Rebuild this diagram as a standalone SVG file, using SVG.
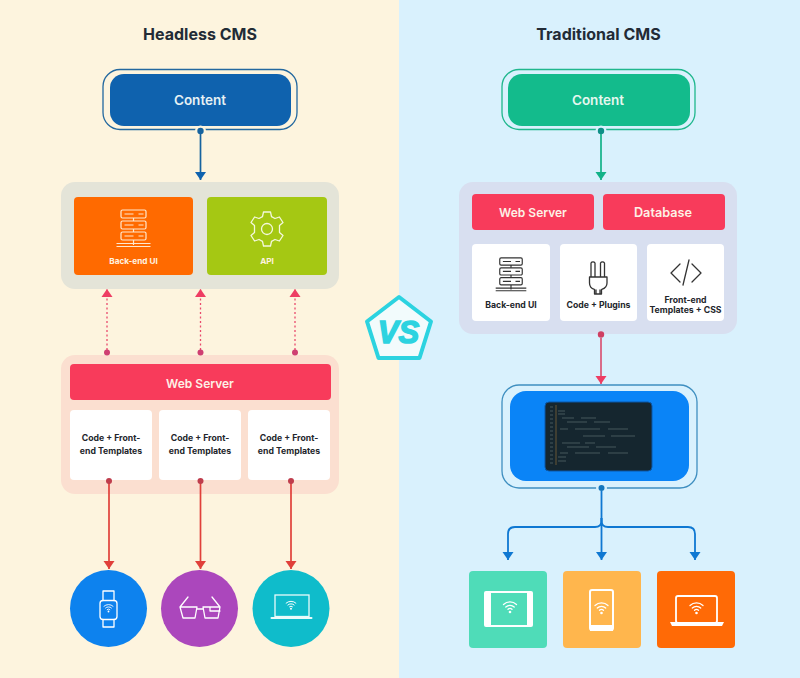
<svg xmlns="http://www.w3.org/2000/svg" width="800" height="678" viewBox="0 0 800 678">
<style>
text{font-family:"Inter","Liberation Sans",sans-serif;text-anchor:middle;font-weight:600}
.title{font-size:16px;fill:#222b36;font-weight:700}
.head{font-size:12px;fill:#fdf0e6}
.small{font-size:8.200px;fill:#fff3e0;font-weight:700}
.dark{font-size:8.700px;fill:#23262b;font-weight:700}
.ic{fill:none;stroke:#fff;stroke-width:1.3;stroke-linejoin:round;stroke-linecap:round}
.ik{fill:none;stroke:#333;stroke-width:1.3;stroke-linejoin:round;stroke-linecap:round}
.code{stroke:#7d8f8f;stroke-width:.8;opacity:.6}
</style>
<defs>
<marker id="ab" markerUnits="userSpaceOnUse" markerWidth="9" markerHeight="12" refX="8" refY="6" orient="auto"><path d="M0 0.500L8 6L0 11.500z" fill="#0f62ae"/></marker>
<marker id="ag" markerUnits="userSpaceOnUse" markerWidth="9" markerHeight="12" refX="8" refY="6" orient="auto"><path d="M0 0.500L8 6L0 11.500z" fill="#12b288"/></marker>
<marker id="ap" markerUnits="userSpaceOnUse" markerWidth="9" markerHeight="12" refX="8" refY="6" orient="auto"><path d="M0 0.500L8 6L0 11.500z" fill="#ee3d63"/></marker>
<marker id="ar" markerUnits="userSpaceOnUse" markerWidth="9" markerHeight="12" refX="8" refY="6" orient="auto"><path d="M0 0.500L8 6L0 11.500z" fill="#e0403a"/></marker>
<marker id="au" markerUnits="userSpaceOnUse" markerWidth="9" markerHeight="12" refX="8" refY="6" orient="auto"><path d="M0 0.500L8 6L0 11.500z" fill="#0f78d2"/></marker>
<g id="wifi"><path d="M-6.500-2.500a9.500 9.500 0 0 1 13 0M-4.200 0a6 6 0 0 1 8.400 0M-2 2.300a3 3 0 0 1 4 0" fill="none" stroke-width="1.300" stroke-linecap="round"/><circle cy="5" r="1.300" stroke="none"/></g>
<g id="srv">
<rect x="-12.500" y="-19" width="25" height="8" rx="1.500"/><rect x="-12.500" y="-8" width="25" height="8" rx="1.500"/><rect x="-12.500" y="3" width="25" height="8" rx="1.500"/>
<path d="M0-11v3M0 0v3M0 11v5M-17 14.500H17M-17 17.500H17M-9-15h9M-9-4h9M-9 7h9M5-15h5M5-4h5M5 7h5"/>
</g>
</defs>
<rect width="400" height="678" fill="#fdf4de"/>
<rect x="399" width="401" height="678" fill="#d9f1fd"/>
<text class="title" x="200" y="40">Headless CMS</text>
<text class="title" x="598.500" y="40">Traditional CMS</text>

<g id="left-content">
<rect x="103" y="69.500" width="194" height="60" rx="17" fill="none" stroke="#23689f" stroke-width="1.300"/>
<rect x="110" y="74" width="181" height="52" rx="14" fill="#0f62ae"/>
<text x="200" y="105" style="font-size:13.500px;fill:#e6f1f4">Content</text>
</g>
<g id="left-cms-panel">
<rect x="61" y="182" width="278" height="107" rx="14" fill="#e4e4d8"/>
<rect x="74" y="197" width="119" height="78" rx="4" fill="#ff6a00"/>
<use href="#srv" transform="translate(133.500 229)" fill="none" stroke="#ffe8cf" stroke-width="1.200"/>
<text class="small" x="133.500" y="264">Back-end UI</text>
<rect x="207" y="197" width="120" height="78" rx="4" fill="#a5c813"/>
<g transform="translate(267 229)" fill="none" stroke="#f4f8dc" stroke-width="1.300" stroke-linejoin="round">
<circle r="5.500"/>
<path d="M-3.500-17H3.500L4.500-12.400 8-10.500 12.400-12 16-6.500 12.500-3.500V3.500L16 6.500 12.400 12 8 10.500 4.500 12.400 3.500 17H-3.500L-4.500 12.400-8 10.500-12.400 12-16 6.500-12.500 3.500V-3.500L-16-6.500-12.400-12-8-10.500-4.500-12.400z"/>
</g>
<text class="small" x="267" y="264">API</text>
</g>
<g id="left-web-server">
<rect x="61" y="355" width="278" height="139" rx="14" fill="#fbdfd0"/>
<rect x="70" y="364" width="261" height="36" rx="4" fill="#f83b5b"/>
<text class="head" x="200" y="388">Web Server</text>
<rect x="70" y="410" width="82" height="70" rx="4" fill="#fff"/>
<rect x="159" y="410" width="82" height="70" rx="4" fill="#fff"/>
<rect x="248" y="410" width="82" height="70" rx="4" fill="#fff"/>
<text class="dark" x="111" y="441">Code + Front-</text><text class="dark" x="111" y="454">end Templates</text>
<text class="dark" x="200" y="441">Code + Front-</text><text class="dark" x="200" y="454">end Templates</text>
<text class="dark" x="289" y="441">Code + Front-</text><text class="dark" x="289" y="454">end Templates</text>
</g>
<g id="device-watch">
<circle cx="108.500" cy="608.500" r="38.500" fill="#0d82ee"/>
<g class="ic"><rect x="100" y="600.500" width="17" height="19" rx="3"/><path d="M103 600.500V591H114V600.500M103 619.500V627H114V619.500"/></g>
<use href="#wifi" transform="translate(108.500 608) scale(.7)" fill="#fff" stroke="#fff"/>
</g>
<g id="device-glasses">
<circle cx="199.500" cy="608.500" r="38.500" fill="#ab47bc"/>
<path class="ic" d="M180 607H197L195 618H183ZM203 607H220L218 618H205ZM197 609H203M180 607L188 597M220 607L212 597M210 607V611H220"/>
</g>
<g id="device-laptop-left">
<circle cx="291" cy="608.500" r="38.500" fill="#0fbccb"/>
<rect x="275" y="595" width="34" height="21.500" fill="none" stroke="#e9fbfb" stroke-width="1.300"/>
<rect x="270.500" y="617" width="42" height="2" rx="1" fill="#e9fbfb"/>
<use href="#wifi" transform="translate(291 605) scale(.75)" fill="#fff" stroke="#fff"/>
</g>

<g id="right-content">
<rect x="502" y="69.500" width="193" height="60" rx="17" fill="none" stroke="#1fb78d" stroke-width="1.300"/>
<rect x="508" y="74" width="182" height="52" rx="14" fill="#13bb8c"/>
<text x="598" y="105" style="font-size:13.500px;fill:#e6f7ef">Content</text>
</g>
<g id="right-cms-panel">
<rect x="459" y="182" width="278" height="152" rx="14" fill="#d8dff0"/>
<rect x="472" y="194" width="122" height="36" rx="4" fill="#f83b5b"/>
<text class="head" x="533" y="217">Web Server</text>
<rect x="603" y="194" width="122" height="36" rx="4" fill="#f83b5b"/>
<text class="head" x="663" y="217" style="font-size:12.700px">Database</text>
<rect x="472" y="244" width="78" height="77" rx="4" fill="#fff"/>
<use href="#srv" transform="translate(511 275) scale(.9)" fill="none" stroke="#333" stroke-width="1.300"/>
<text class="dark" x="511" y="308">Back-end UI</text>
<rect x="560" y="244" width="77" height="77" rx="4" fill="#fff"/>
<path class="ik" d="M591 277V263a2.300 2.300 0 0 1 4 0V277M600.500 277V263a2.300 2.300 0 0 1 4 0V277M589.500 277H607V283C607 288 603 289 601.500 289.500V294H594.500V289.500C593 289 589.500 288 589.500 283ZM596 294V290M600 294V290"/>
<text class="dark" x="598.500" y="308">Code + Plugins</text>
<rect x="647" y="244" width="77" height="77" rx="4" fill="#fff"/>
<path class="ik" stroke-width="1.500" d="M680 264L671 273L680 282M692 264L701 273L692 282M689 260L683 285"/>
<text class="dark" x="685.500" y="303">Front-end</text><text class="dark" x="685.500" y="313">Templates + CSS</text>
</g>
<g id="code-screen">
<rect x="502" y="385" width="195" height="103" rx="17" fill="none" stroke="#3f8fc0" stroke-width="1.300"/>
<rect x="510" y="391" width="179" height="90" rx="16" fill="#0a84f7"/>
<rect x="545" y="402" width="107" height="69" rx="4" fill="#15262f" stroke="#0b57a8" stroke-width="1"/>
<path d="M556 405V465" stroke="#8c6d3a" stroke-width=".7"/>
<path class="code" d="M550 407h3M550 411h3M550 415h3M550 419h3M550 423h3M550 427h3M550 431h3M550 435h3M550 439h3M550 443h3M550 447h3M550 451h3M550 455h3M550 459h3M550 463h3M558 411h7M558 414h7M562 418h12M581 418h15M567 422h20M594 422h16M560 429h8M575 429h25M608 429h20M583 436h22M611 436h24M562 443h18M585 443h10M567 447h22M596 447h20M560 453h8M575 453h25M608 453h20M558 457h8M558 461h8"/>
</g>
<g id="device-tablet">
<rect x="469" y="571" width="78" height="77" rx="4" fill="#4fdcb8"/>
<rect x="484" y="591" width="49" height="36" rx="2" fill="#fff"/>
<rect x="491" y="593" width="36" height="32" fill="#4fdcb8"/>
<use href="#wifi" transform="translate(510 607)" fill="#fff" stroke="#fff"/>
</g>
<g id="device-phone">
<rect x="563" y="571" width="78" height="77" rx="4" fill="#ffb64d"/>
<rect x="590" y="590" width="23" height="40" rx="2" fill="none" stroke="#fff" stroke-width="2"/>
<rect x="590" y="625" width="23" height="6" fill="#fff"/>
<use href="#wifi" transform="translate(601.500 608)" fill="#fff" stroke="#fff"/>
</g>
<g id="device-laptop-right">
<rect x="657" y="571" width="78" height="77" rx="4" fill="#ff6a06"/>
<rect x="676" y="596" width="41" height="27" rx="2" fill="none" stroke="#fff" stroke-width="1.800"/>
<path d="M670 622H724L722 626H672Z" fill="#fff"/>
<use href="#wifi" transform="translate(696.500 608)" fill="#fff" stroke="#fff"/>
</g>
<g id="vs-badge">
<path d="M399 297L431 321.500L419.500 358H378.500L367 321.500Z" fill="#f2fbfc" stroke="#2cd3e0" stroke-width="4" stroke-linejoin="round"/>
<text x="398.500" y="343" style="font-family:'Liberation Sans',sans-serif;font-size:31px;font-weight:700;font-style:italic;fill:#2cd3e0;stroke:#2cd3e0;stroke-width:1.500">VS</text>
</g>

<g id="connectors" fill="none">
<circle cx="200.500" cy="131" r="5.500" fill="#fdf4de"/><circle cx="200.500" cy="131" r="3.200" fill="#16639f"/>
<path d="M200.500 134V180" stroke="#16639f" stroke-width="1.700" marker-end="url(#ab)"/>
<circle cx="601" cy="131" r="5.500" fill="#d9f1fd"/><circle cx="601" cy="131" r="3.200" fill="#0f8f88"/>
<path d="M601 134V180" stroke="#12b288" stroke-width="1.700" marker-end="url(#ag)"/>
<g stroke="#ea4a6c" stroke-width="1.300" stroke-dasharray="2 2.500">
<path d="M107 350V289" marker-end="url(#ap)"/><path d="M200.500 350V289" marker-end="url(#ap)"/><path d="M295 350V289" marker-end="url(#ap)"/>
</g>
<g fill="#cf3f72"><circle cx="107" cy="352.500" r="3"/><circle cx="200.500" cy="352.500" r="3"/><circle cx="295" cy="352.500" r="3"/></g>
<g stroke="#e0403a" stroke-width="1.700">
<path d="M109 481V569" marker-end="url(#ar)"/><path d="M200.500 481V569" marker-end="url(#ar)"/><path d="M291 481V569" marker-end="url(#ar)"/>
</g>
<g fill="#bf3d4c"><circle cx="109" cy="481" r="3"/><circle cx="200.500" cy="481" r="3"/><circle cx="291" cy="481" r="3"/></g>
<circle cx="601" cy="334.500" r="3.200" fill="#cf3f62"/>
<path d="M601 338V384" stroke="#d83f62" stroke-width="1.500" marker-end="url(#ap)"/>
<circle cx="601.500" cy="488" r="5.500" fill="#d9f1fd"/><circle cx="601.500" cy="488" r="3" fill="#1577bd"/>
<g stroke="#0f78d2" stroke-width="1.800">
<path d="M601.500 491V560" marker-end="url(#au)"/>
<path d="M601.500 518V521Q601.500 527 595 527H515Q508 527 508 534V560" marker-end="url(#au)"/>
<path d="M601.500 518V521Q601.500 527 608 527H688Q695 527 695 534V560" marker-end="url(#au)"/>
</g>
</g>
</svg>
